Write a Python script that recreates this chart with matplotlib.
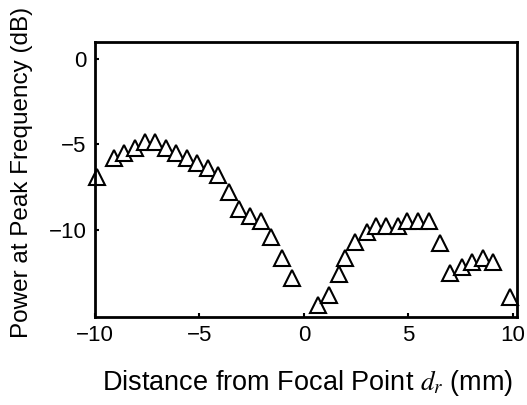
import numpy as np
import matplotlib
matplotlib.use("Agg")
import matplotlib.pyplot as plt

plt.rcParams['font.family'] = ['Liberation Sans', 'DejaVu Sans']
plt.rcParams['mathtext.fontset'] = 'stix'

# distance from focal point (mm)
dist = [-9.9, -9.1, -8.6, -8.1, -7.6, -7.1, -6.6, -6.1, -5.6, -5.1,
        -4.6, -4.1, -3.6, -3.1, -2.6, -2.05, -1.55, -1.05, -0.55,
        0.7, 1.2, 1.7, 1.95, 2.45, 3.0, 3.45, 3.95, 4.5, 4.95, 5.45, 6.0,
        6.5, 7.0, 7.55, 8.05, 8.55, 9.05, 9.85]
# power at peak frequency (dB)
power = [-6.9, -5.8, -5.5, -5.2, -4.9, -4.9, -5.2, -5.5, -5.8, -6.1,
         -6.4, -6.8, -7.8, -8.8, -9.2, -9.5, -10.4, -11.65, -12.8,
         -14.4, -13.8, -12.6, -11.65, -10.7, -10.1, -9.8, -9.8, -9.8, -9.5, -9.5, -9.5,
         -10.8, -12.5, -12.2, -11.9, -11.65, -11.9, -13.9]

xticks = [-10, -5, 0, 5, 10]
yticks = [0, -5, -10]

fig = plt.figure(figsize=(5.27, 4.05), dpi=100)
ax = fig.add_axes([0.180, 0.217, 0.801, 0.679])

ax.plot(dist, power, linestyle='none', marker='^', markersize=11,
        markerfacecolor='white', markeredgecolor='black', markeredgewidth=1.5,
        clip_on=False)

ax.set_xlim(-9.9, 10.2)
ax.set_ylim(-15.1, 0.96)
ax.set_xticks(xticks)
ax.set_yticks(yticks)

for s in ax.spines.values():
    s.set_linewidth(2)

ax.tick_params(axis='both', direction='in', length=3, width=1.5, labelsize=16)
ax.tick_params(axis='x', pad=6)
ax.tick_params(axis='y', pad=6)

ax.set_xlabel('Distance from Focal Point $d_r$ (mm)', fontsize=19.5, va='center')
ax.set_ylabel('Power at Peak Frequency (dB)', fontsize=17.5, va='center')
ax.xaxis.set_label_coords(0.505, -0.24)
ax.yaxis.set_label_coords(-0.173, 0.527)

fig.savefig('out.png', dpi=100)
